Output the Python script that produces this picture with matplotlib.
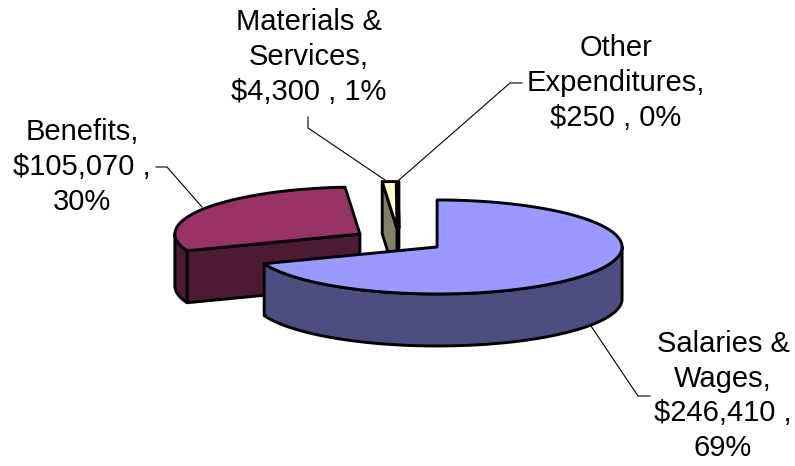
import numpy as np
import matplotlib
matplotlib.use("Agg")
import matplotlib.pyplot as plt
from matplotlib.patches import Polygon

plt.rcParams['font.family'] = ['Liberation Sans', 'DejaVu Sans']

categories = ['Salaries &\nWages', 'Benefits', 'Materials &\nServices', 'Other\nExpenditures']
values = [246410, 105070, 4300, 250]
top_colors = ['#9999FF', '#993366', '#FFFFCC', '#CCFFFF']
side_colors = ['#4D4D80', '#4D1A33', '#808066', '#668080']

# pie geometry, in pixels of the 795x466 canvas
cx, cy = 399.0, 240.3
rx, ry = 185.0, 47.0
depth = 52.0
explode = 0.25
lw = 2.1

label_pos = [(723, 396), (82, 167), (309, 57), (616, 83)]
label_text = [
    'Salaries &\nWages,\n$246,410 ,\n69%',
    'Benefits,\n$105,070 ,\n30%',
    'Materials &\nServices,\n$4,300 , 1%',
    'Other\nExpenditures,\n$250 , 0%',
]
leaders = [
    [(591, 326), (638, 396), (650, 396)],
    [(156, 167), (167, 167), (202, 207)],
    [(308, 117), (308, 128), (385, 180)],
    [(522, 83), (510, 83), (399, 180)],
]

total = sum(values)
fracs = [v / total for v in values]
edges = np.concatenate([[0], np.cumsum(fracs)]) * 2 * np.pi


def pt(a, center, drop=0.0):
    # angle runs clockwise from twelve o'clock, y grows downward
    return center[0] + rx * np.sin(a), center[1] - ry * np.cos(a) + drop


def arc(a0, a1, center, drop=0.0):
    n = max(2, int((a1 - a0) * 60))
    aa = np.linspace(a0, a1, n)
    return np.column_stack(pt(aa, center, drop))


def face(ax, pts, color, z):
    ax.add_patch(Polygon(pts, closed=True, facecolor=color, edgecolor='black',
                         linewidth=lw, joinstyle='round', zorder=z))


fig = plt.figure(figsize=(7.95, 4.66), dpi=100)
ax = fig.add_axes([0, 0, 1, 1])
ax.set_xlim(0, 795)
ax.set_ylim(466, 0)
ax.axis('off')

# back slices first so the large slice covers their lower part
draw_order = [1, 2, 3, 0]
for z, i in enumerate(draw_order):
    a0, a1 = edges[i], edges[i + 1]
    mid = (a0 + a1) / 2
    center = pt(mid, (cx, cy))
    center = (cx + explode * (center[0] - cx), cy + explode * (center[1] - cy))
    base = z * 3 + 2

    # cut face on the start side, seen only for slices in the left half
    if a0 > np.pi:
        s = pt(a0, center)
        face(ax, [center, s, (s[0], s[1] + depth), (center[0], center[1] + depth)],
             side_colors[i], base)

    # outer wall, only the part of the rim that faces the front
    w0, w1 = max(a0, np.pi / 2), min(a1, 3 * np.pi / 2)
    if w1 > w0:
        upper = arc(w0, w1, center)
        lower = arc(w0, w1, center, depth)
        face(ax, np.vstack([upper, lower[::-1]]), side_colors[i], base + 1)

    top = np.vstack([[center], arc(a0, a1, center)])
    face(ax, top, top_colors[i], base + 2)

for pts in leaders:
    xs, ys = zip(*pts)
    ax.plot(xs, ys, color='black', lw=0.8, zorder=1)

for (x, y), t in zip(label_pos, label_text):
    ax.text(x, y, t, fontsize=21, ha='center', va='center', color='black',
            linespacing=1.3, zorder=30)

fig.savefig('out.png', dpi=100)
